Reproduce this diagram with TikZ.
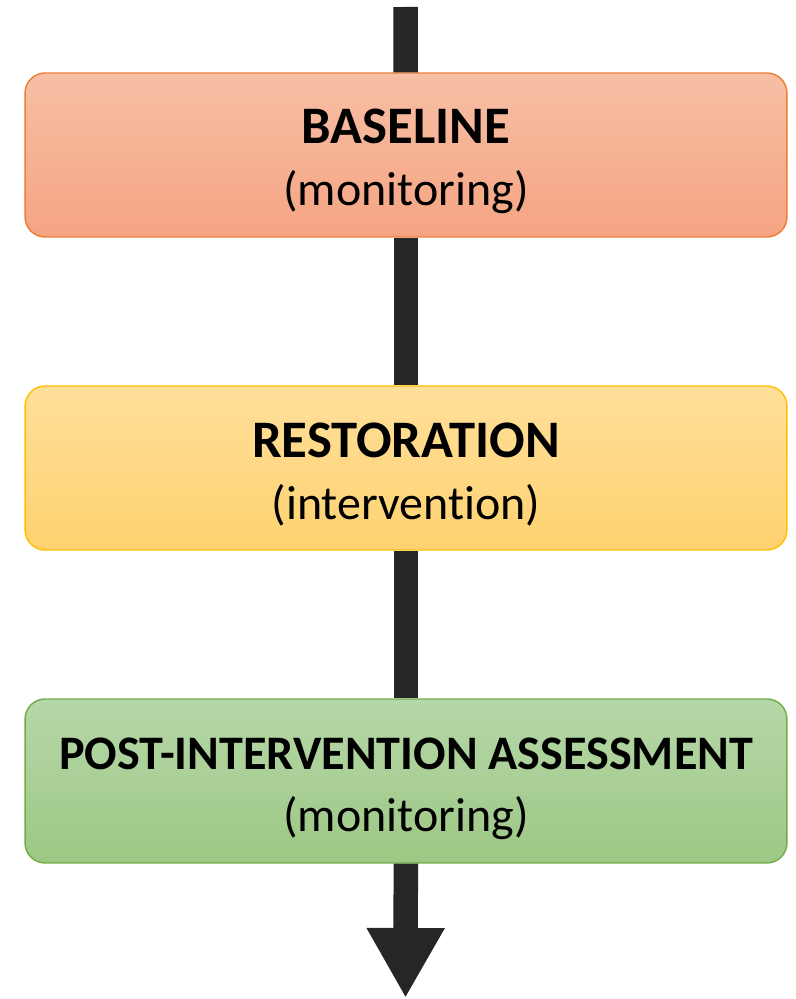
\documentclass[tikz,border=0pt]{standalone}
\usepackage{fontspec}
\setmainfont{Carlito}[Ligatures=NoCommon]
\usetikzlibrary{arrows.meta}

\definecolor{arrowgray}{HTML}{262626}

% title in bold, note in brackets below it
\newcommand\phasetext[3][30]{%
  {\fontsize{#1}{35.1}\selectfont\bfseries #2}\rule{0pt}{27.2pt}\\(#3)}

\begin{document}
\begin{tikzpicture}[x=0.02cm,y=-0.02cm,
    phase/.style={draw,line width=0.8pt,rounded corners=0.4cm,
      minimum width=15.24cm,minimum height=3.28cm,align=center,
      font=\fontsize{27.3}{35.1}\selectfont},
    flow/.style={line width=0.49cm,draw=arrowgray}]
  \useasboundingbox (0,0) rectangle (795,999);
  \node[phase,draw={rgb,255:red,237;green,125;blue,49},
    top color={rgb,255:red,247;green,191;blue,165},
    bottom color={rgb,255:red,245;green,164;blue,130}]
    (baseline) at (406,155) {\phasetext{BASELINE}{monitoring}};
  \node[phase,draw={rgb,255:red,255;green,192;blue,0},
    top color={rgb,255:red,255;green,223;blue,154},
    bottom color={rgb,255:red,255;green,210;blue,112}]
    (restoration) at (406,468) {\phasetext{RESTORATION}{intervention}};
  \node[phase,draw={rgb,255:red,112;green,173;blue,71},
    top color={rgb,255:red,182;green,215;blue,168},
    bottom color={rgb,255:red,157;green,200;blue,132}]
    (post) at (406,781) {\phasetext[27.4]{POST-INTERVENTION ASSESSMENT}{monitoring}};
  \coordinate (start) at (405.5,7);
  \coordinate (finish) at (405.5,998);
  \draw[flow] (start) -- (baseline);
  \draw[flow] (baseline) -- (restoration);
  \draw[flow] (restoration) -- (post);
  \draw[flow,-{Triangle[length=1.4cm,width=1.46cm]}] (post) -- (finish);
\end{tikzpicture}
\end{document}
